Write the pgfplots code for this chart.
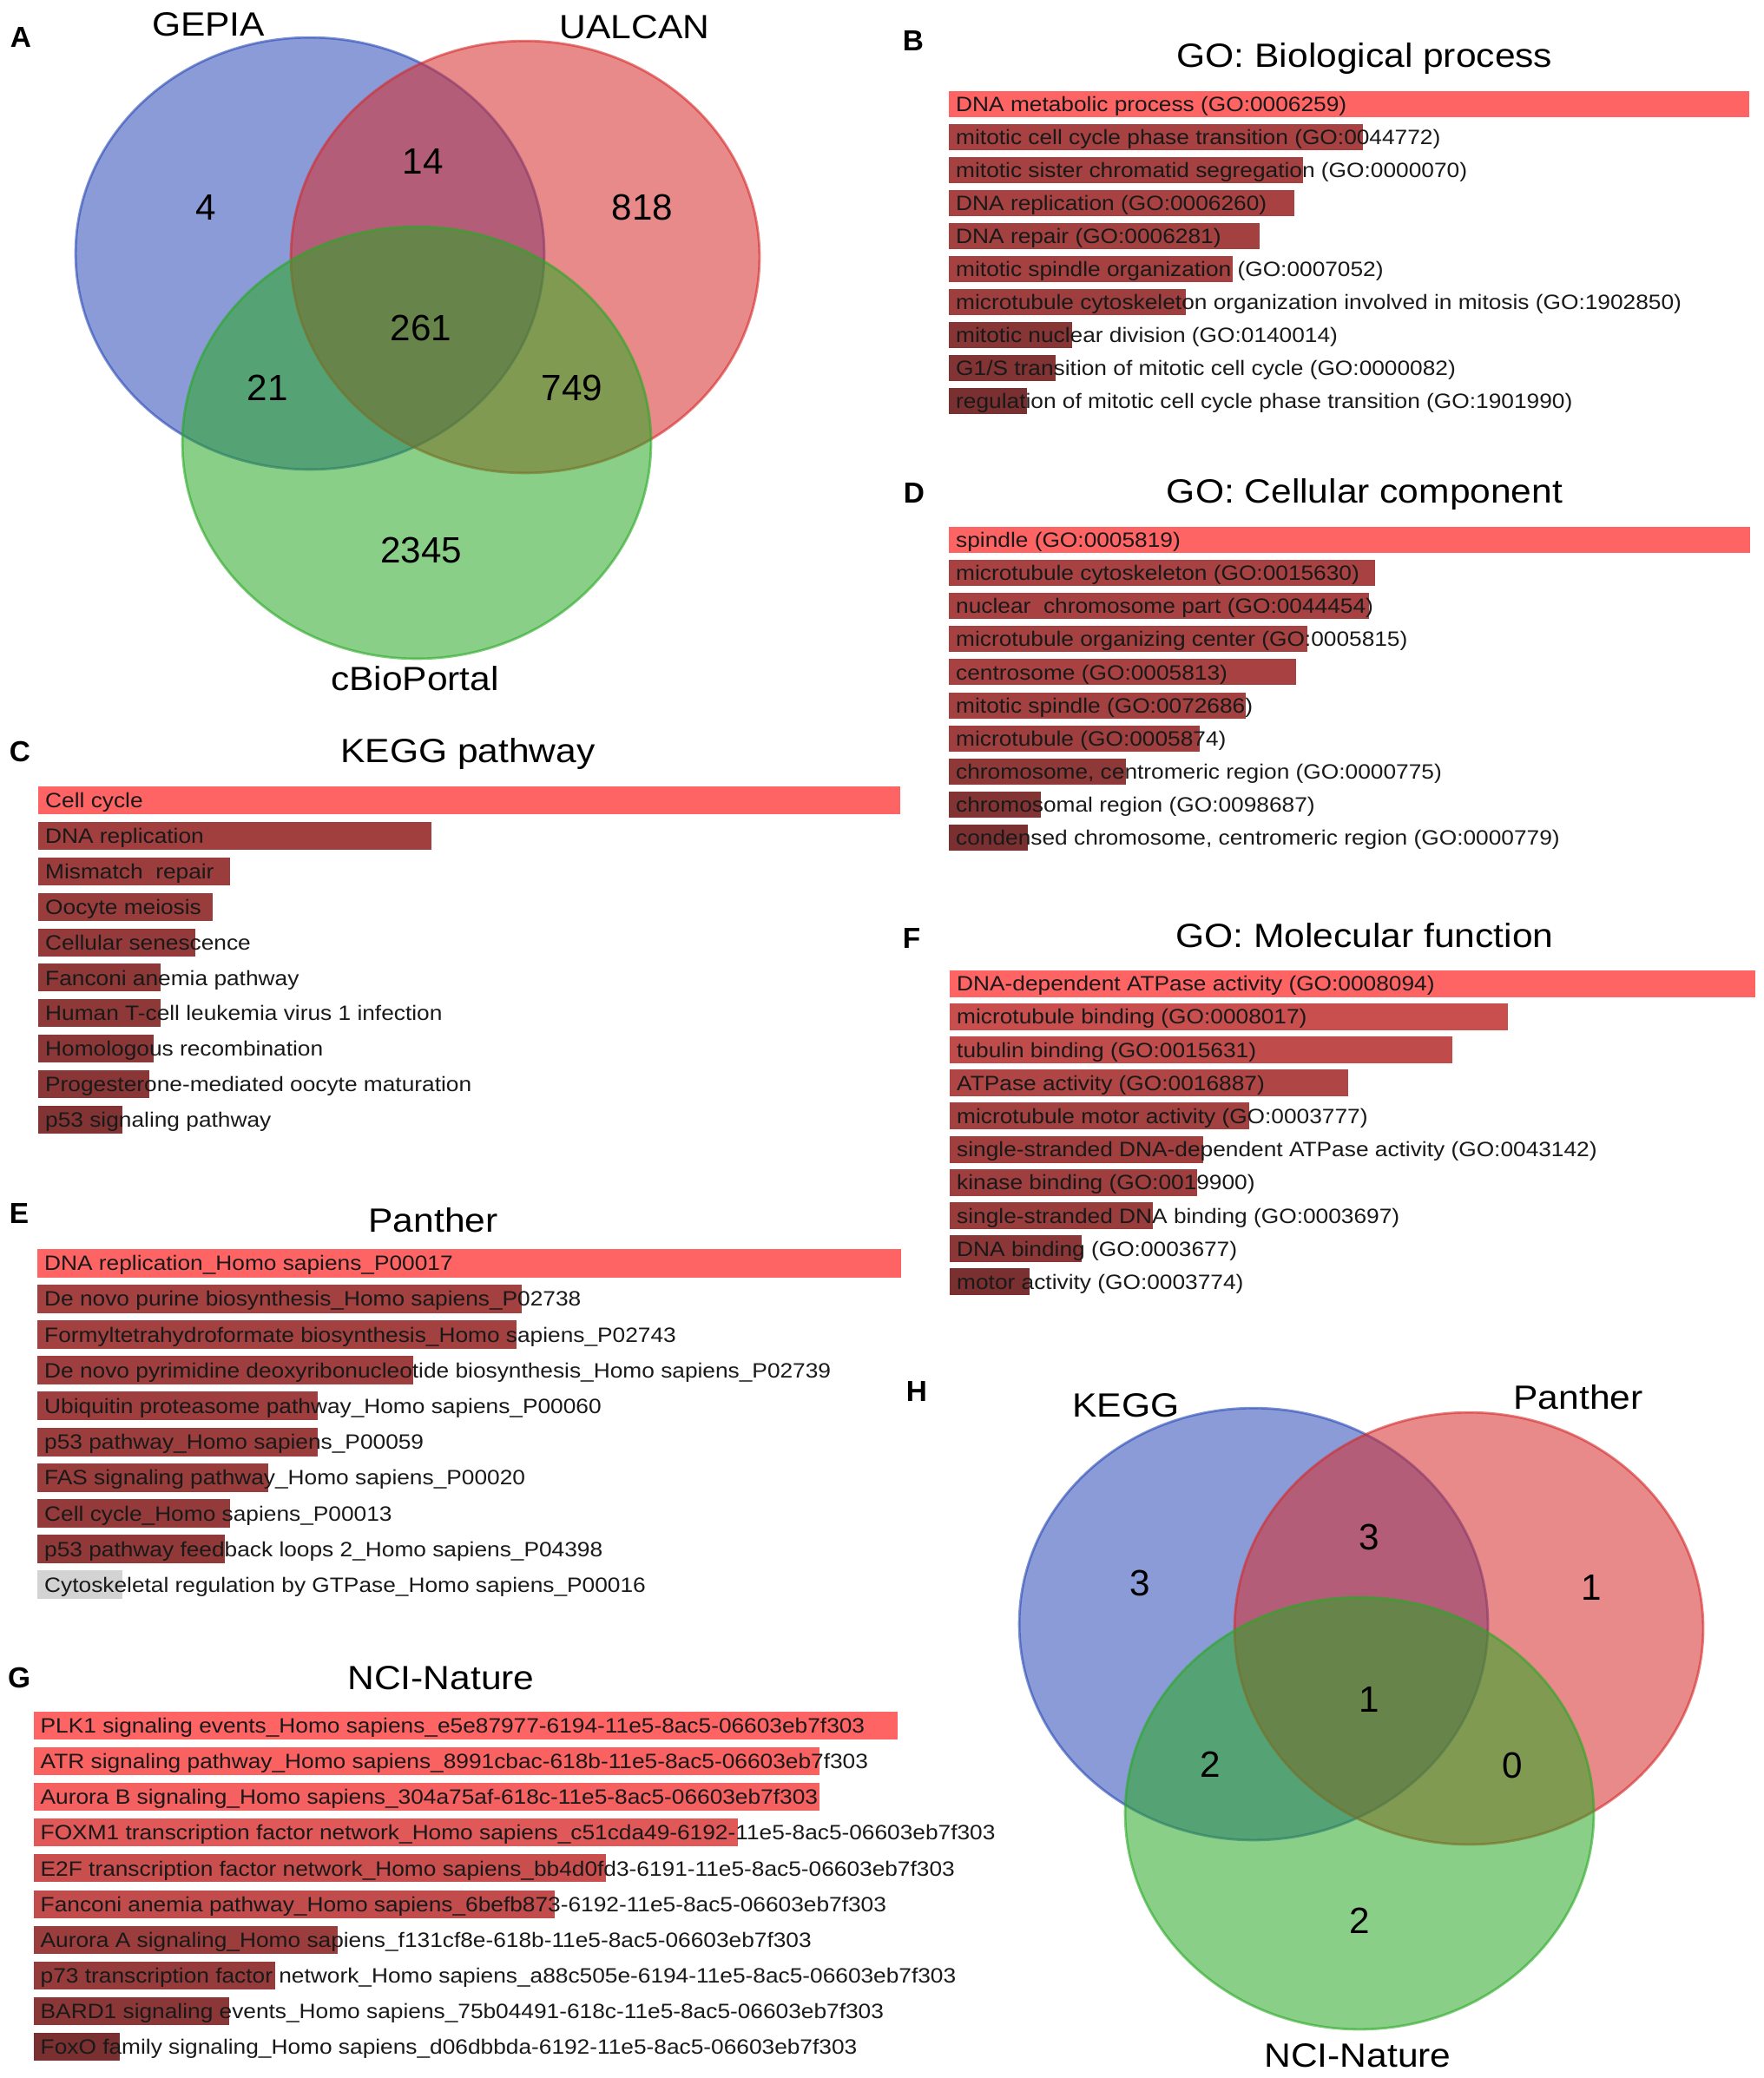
\documentclass[border=0pt]{standalone}
\usepackage{pgfplots}
\pgfplotsset{compat=1.18}
\usepackage{fontspec}
\setmainfont{Liberation Sans}
\newfontfamily\barfont{Liberation Sans}[FakeStretch=1.1]

\definecolor{top}{HTML}{FF6464}
\definecolor{vblue}{RGB}{41,73,182}
\definecolor{vred}{RGB}{213,42,42}
\definecolor{vgreen}{RGB}{42,168,37}
\definecolor{txt}{RGB}{25,25,25}
\definecolor{grey}{RGB}{211,211,211}

\newcommand\lbl{\barfont\fontsize{6.8}{8}\selectfont}
% one bar: length, row, share of the top colour (rest black)
\newcommand\hb[3]{\addplot[fill=top!#3!black] coordinates {(#1,#2)};}

\pgfplotsset{
  hbars/.style={
    xbar, bar shift=0pt, bar width=#1,
    y dir=reverse, x=0.1mm,
    xmin=0, ymin=0.5, ymax=10.5,
    enlargelimits=false, axis on top, clip=false,
    anchor=north west,
    axis line style={draw=none}, major tick length=0pt,
    xtick=\empty, ytick={1,...,10},
    yticklabel style={anchor=west, inner sep=0pt, xshift=0.75mm,
      text height=1.72mm, text depth=0pt, font=\lbl, text=txt},
    every axis plot/.append style={draw=none},
  },
  venn/.style={only marks, mark=*, mark size=76.8pt,
    mark options={yscale=0.922, fill=#1, fill opacity=0.55,
      draw=#1, draw opacity=0.6, line width=0.8pt}},
}
\tikzset{
  ttl/.style={inner sep=0pt, text height=2.77mm, text depth=0pt,
    font=\barfont\fontsize{11}{13}\selectfont, text=black},
  lettr/.style={inner sep=0pt, text height=2.4mm, text depth=0pt,
    font=\fontsize{9.5}{11}\selectfont\bfseries},
}

\begin{document}
\begin{tikzpicture}
\useasboundingbox (0,0) rectangle (203.1mm,-239.4mm);

% page frame in pixels: venn diagrams, titles, panel letters
\begin{axis}[at={(0,0)}, anchor=north west, x=0.1mm, y=0.1mm, y dir=reverse,
  xmin=0, xmax=2031, ymin=0, ymax=2394, hide axis, clip=false]
% A
\addplot[venn=vblue] coordinates {(357,292)};
\addplot[venn=vred] coordinates {(605,296)};
\addplot[venn=vgreen] coordinates {(480,510)};
% H
\addplot[venn=vblue] coordinates {(1444,1871)};
\addplot[venn=vred] coordinates {(1692,1876)};
\addplot[venn=vgreen] coordinates {(1566,2089)};

\addplot[draw=none, nodes near coords, point meta=explicit symbolic,
  every node near coord/.append style={anchor=center, inner sep=0pt,
    text height=3.02mm, text depth=0pt, font=\fontsize{12}{14}\selectfont, text=black}]
  table[meta=n] {
x y n
237 238 4
487 185 14
740 238 818
485 377 261
308 446 21
659 446 749
485 633 2345
1313 1823 3
1577 1770 3
1833 1828 1
1577 1957 1
1394 2032 2
1742 2033 0
1566 2212 2
};

\node[ttl] at (axis cs:240,28) {GEPIA};
\node[ttl] at (axis cs:731,31) {UALCAN};
\node[ttl] at (axis cs:478,782) {cBioPortal};
\node[ttl] at (axis cs:1297,1619) {KEGG};
\node[ttl] at (axis cs:1818,1610) {Panther};
\node[ttl] at (axis cs:1564,2368) {NCI-Nature};

\node[ttl] at (axis cs:1572,64) {GO: Biological process};
\node[ttl] at (axis cs:1572,566) {GO: Cellular component};
\node[ttl] at (axis cs:1572,1078) {GO: Molecular function};
\node[ttl] at (axis cs:539,865) {KEGG pathway};
\node[ttl] at (axis cs:499,1406) {Panther};
\node[ttl] at (axis cs:508,1933) {NCI-Nature};

\node[lettr] at (axis cs:24,42) {A};
\node[lettr] at (axis cs:1052,46) {B};
\node[lettr] at (axis cs:23,865) {C};
\node[lettr] at (axis cs:1053,567) {D};
\node[lettr] at (axis cs:22,1397) {E};
\node[lettr] at (axis cs:1050,1080) {F};
\node[lettr] at (axis cs:22,1932) {G};
\node[lettr] at (axis cs:1056,1602) {H};
\end{axis}

% B
\begin{axis}[hbars=3.0mm, at={(109.3mm,-10.05mm)}, y=3.805mm, xmax=930,
  yticklabels={{DNA metabolic process (GO:0006259)},
    {mitotic cell cycle phase transition (GO:0044772)},
    {mitotic sister chromatid segregation (GO:0000070)},
    {DNA replication (GO:0006260)},
    {DNA repair (GO:0006281)},
    {mitotic spindle organization (GO:0007052)},
    {microtubule cytoskeleton organization involved in mitosis (GO:1902850)},
    {mitotic nuclear division (GO:0140014)},
    {G1/S transition of mitotic cell cycle (GO:0000082)},
    {regulation of mitotic cell cycle phase transition (GO:1901990)}}]
\hb{922}{1}{100}
\hb{477}{2}{66}
\hb{408}{3}{65}
\hb{398}{4}{66}
\hb{358}{5}{64}
\hb{327}{6}{65}
\hb{273}{7}{62}
\hb{142}{8}{53}
\hb{123}{9}{51}
\hb{90}{10}{48}
\end{axis}

% D
\begin{axis}[hbars=3.0mm, at={(109.3mm,-60.3mm)}, y=3.81mm, xmax=930,
  yticklabels={{spindle (GO:0005819)},
    {microtubule cytoskeleton (GO:0015630)},
    {nuclear\ \ chromosome part (GO:0044454)},
    {microtubule organizing center (GO:0005815)},
    {centrosome (GO:0005813)},
    {mitotic spindle (GO:0072686)},
    {microtubule (GO:0005874)},
    {chromosome, centromeric region (GO:0000775)},
    {chromosomal region (GO:0098687)},
    {condensed chromosome, centromeric region (GO:0000779)}}]
\hb{923}{1}{100}
\hb{491}{2}{66}
\hb{484}{3}{66}
\hb{413}{4}{65}
\hb{400}{5}{66}
\hb{342}{6}{64}
\hb{289}{7}{62}
\hb{204}{8}{56}
\hb{106}{9}{51}
\hb{91}{10}{48}
\end{axis}

% F
\begin{axis}[hbars=3.1mm, at={(109.4mm,-111.4mm)}, y=3.82mm, xmax=930,
  yticklabels={{DNA-dependent ATPase activity (GO:0008094)},
    {microtubule binding (GO:0008017)},
    {tubulin binding (GO:0015631)},
    {ATPase activity (GO:0016887)},
    {microtubule motor activity (GO:0003777)},
    {single-stranded DNA-dependent ATPase activity (GO:0043142)},
    {kinase binding (GO:0019900)},
    {single-stranded DNA binding (GO:0003697)},
    {DNA binding (GO:0003677)},
    {motor activity (GO:0003774)}}]
\hb{928}{1}{100}
\hb{643}{2}{79}
\hb{579}{3}{75}
\hb{459}{4}{69}
\hb{345}{5}{64}
\hb{292}{6}{63}
\hb{285}{7}{62}
\hb{234}{8}{60}
\hb{152}{9}{55}
\hb{92}{10}{48}
\end{axis}

% C
\begin{axis}[hbars=3.2mm, at={(4.4mm,-90.15mm)}, y=4.09mm, xmax=1000,
  yticklabels={{Cell cycle},
    {DNA replication},
    {Mismatch\ \ repair},
    {Oocyte meiosis},
    {Cellular senescence},
    {Fanconi anemia pathway},
    {Human T-cell leukemia virus 1 infection},
    {Homologous recombination},
    {Progesterone-mediated oocyte maturation},
    {p53 signaling pathway}}]
\hb{993}{1}{100}
\hb{453}{2}{63}
\hb{221}{3}{61}
\hb{201}{4}{60}
\hb{181}{5}{58}
\hb{141}{6}{56}
\hb{141}{7}{56}
\hb{133}{8}{55}
\hb{128}{9}{54}
\hb{97}{10}{51}
\end{axis}

% E
\begin{axis}[hbars=3.3mm, at={(4.3mm,-143.44mm)}, y=4.12mm, xmax=1000,
  yticklabels={{DNA replication\_Homo sapiens\_P00017},
    {De novo purine biosynthesis\_Homo sapiens\_P02738},
    {Formyltetrahydroformate biosynthesis\_Homo sapiens\_P02743},
    {De novo pyrimidine deoxyribonucleotide biosynthesis\_Homo sapiens\_P02739},
    {Ubiquitin proteasome pathway\_Homo sapiens\_P00060},
    {p53 pathway\_Homo sapiens\_P00059},
    {FAS signaling pathway\_Homo sapiens\_P00020},
    {Cell cycle\_Homo sapiens\_P00013},
    {p53 pathway feedback loops 2\_Homo sapiens\_P04398},
    {Cytoskeletal regulation by GTPase\_Homo sapiens\_P00016}}]
\hb{995}{1}{100}
\hb{558}{2}{64}
\hb{552}{3}{64}
\hb{433}{4}{62}
\hb{323}{5}{62}
\hb{323}{6}{61}
\hb{266}{7}{60}
\hb{222}{8}{58}
\hb{216}{9}{57}
\addplot[fill=grey] coordinates {(98,10)};
\end{axis}

% G
\begin{axis}[hbars=3.2mm, at={(3.85mm,-196.75mm)}, y=4.11mm, xmax=1000,
  yticklabels={{PLK1 signaling events\_Homo sapiens\_e5e87977-6194-11e5-8ac5-06603eb7f303},
    {ATR signaling pathway\_Homo sapiens\_8991cbac-618b-11e5-8ac5-06603eb7f303},
    {Aurora B signaling\_Homo sapiens\_304a75af-618c-11e5-8ac5-06603eb7f303},
    {FOXM1 transcription factor network\_Homo sapiens\_c51cda49-6192-11e5-8ac5-06603eb7f303},
    {E2F transcription factor network\_Homo sapiens\_bb4d0fd3-6191-11e5-8ac5-06603eb7f303},
    {Fanconi anemia pathway\_Homo sapiens\_6befb873-6192-11e5-8ac5-06603eb7f303},
    {Aurora A signaling\_Homo sapiens\_f131cf8e-618b-11e5-8ac5-06603eb7f303},
    {p73 transcription factor network\_Homo sapiens\_a88c505e-6194-11e5-8ac5-06603eb7f303},
    {BARD1 signaling events\_Homo sapiens\_75b04491-618c-11e5-8ac5-06603eb7f303},
    {FoxO family signaling\_Homo sapiens\_d06dbbda-6192-11e5-8ac5-06603eb7f303}}]
\hb{995}{1}{100}
\hb{905}{2}{98}
\hb{905}{3}{96}
\hb{811}{4}{88}
\hb{659}{5}{79}
\hb{600}{6}{76}
\hb{350}{7}{61}
\hb{278}{8}{59}
\hb{225}{9}{55}
\hb{99}{10}{48}
\end{axis}
\end{tikzpicture}
\end{document}
